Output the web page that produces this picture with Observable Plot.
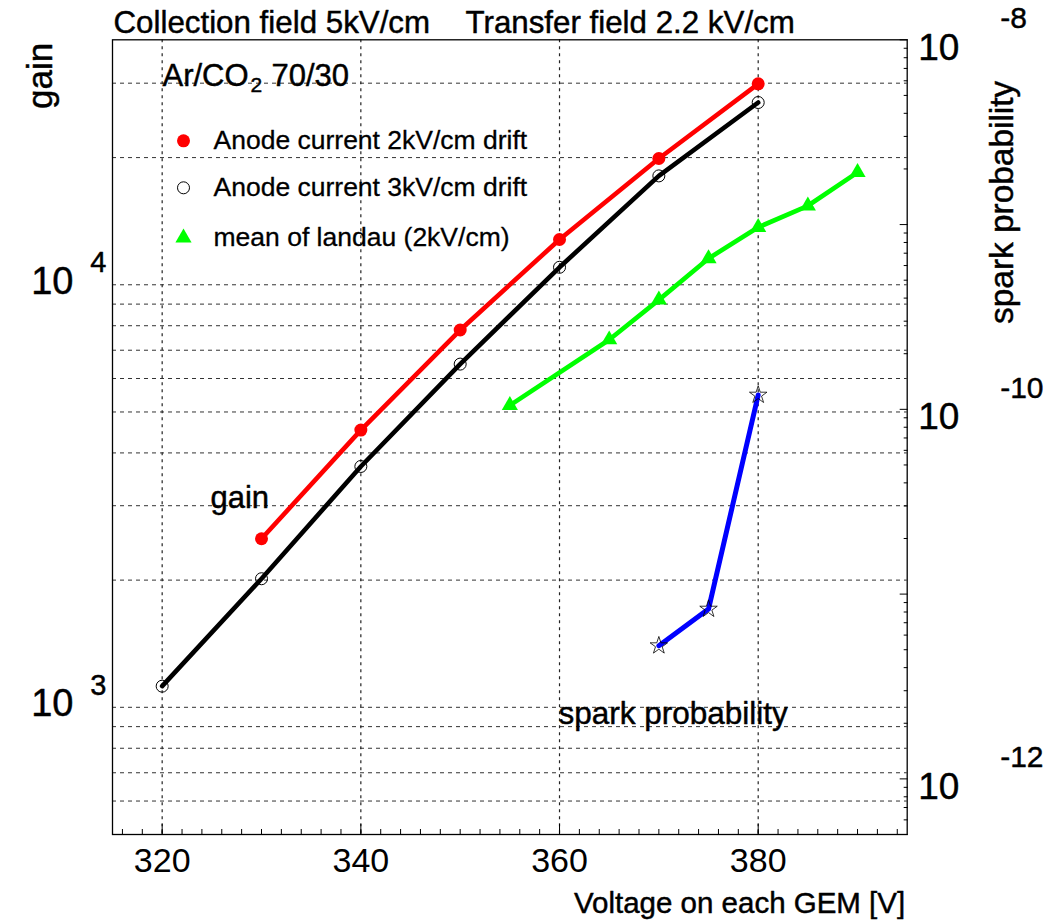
<!DOCTYPE html>
<html><head><meta charset="utf-8">
<script src="https://cdn.jsdelivr.net/npm/d3@7"></script>
<script src="https://cdn.jsdelivr.net/npm/@observablehq/plot@0.6"></script>
<style>
html,body{margin:0;padding:0;background:#fff;}
#chart svg{display:block;}
</style></head><body><div id="chart"></div>
<script>
// ---- data ----
const voltage2kV = [330, 340, 350, 360, 370, 380];
const gain2kV = [2506, 4530, 7815, 12800, 19900, 29900];
const voltage3kV = [320, 330, 340, 350, 360, 370, 380];
const gain3kV = [1122, 2015, 3715, 6490, 11000, 18100, 27000];
const voltageLandau = [355, 365, 370, 375, 380, 385, 390];
const gainLandau = [5185, 7413, 9210, 11540, 13680, 15380, 18460];
const voltageSpark = [370, 375, 380];
const sparkProb = [5.26e-12, 8.3e-12, 1.195e-10];

// ---- axes / ticks ----
const xDomain = [315, 395];
const xTicks = [320, 340, 360, 380];
const xMinorStep = 2;
const gainDomain = [500, 38000];
const gainGrid = [600, 700, 800, 900, 1000, 2000, 3000, 4000, 5000, 6000, 7000, 8000, 9000, 10000, 20000, 30000];
const gainLabelValues = [1000, 10000];
const gainLabelExps = ["3", "4"];
const sparkDomain = [5e-13, 1e-8];
const sparkMajor = [1e-12, 1e-11, 1e-10, 1e-9, 1e-8];
const sparkLabelValues = [1e-12, 1e-10, 1e-8];
const sparkLabelExps = ["-12", "-10", "-8"];
const legendNames = ["Anode current 2kV/cm drift", "Anode current 3kV/cm drift", "mean of landau (2kV/cm)"];

// ---- build tables ----
const s2 = voltage2kV.map((v, i) => ({v, g: gain2kV[i]}));
const s3 = voltage3kV.map((v, i) => ({v, g: gain3kV[i]}));
const sL = voltageLandau.map((v, i) => ({v, g: gainLandau[i]}));
const lg = Math.log10;
const toGain = p => 10 ** (lg(gainDomain[0]) + (lg(p) - lg(sparkDomain[0])) / (lg(sparkDomain[1]) - lg(sparkDomain[0])) * (lg(gainDomain[1]) - lg(gainDomain[0])));
const sS = voltageSpark.map((v, i) => ({v, g: toGain(sparkProb[i])}));
const xMinor = d3.range(xDomain[0] + 1, xDomain[1], xMinorStep);
const sparkMinor = [];
for (let e = -13; e <= -9; e++) for (let m = 2; m <= 9; m++) {
  const p = m * 10 ** e;
  if (p >= sparkDomain[0] && p <= sparkDomain[1]) sparkMinor.push(toGain(p));
}
const gainLabels = gainLabelValues.map((v, i) => ({v, e: gainLabelExps[i]}));
const sparkLabels = sparkLabelValues.map((p, i) => ({g: toGain(p), e: sparkLabelExps[i]}));

const FONT = "'Liberation Sans', Arial, Helvetica, sans-serif";
const mL = 112, mR = 143.3, mT = 39.3, mB = 90;
const T = {stroke: "black", strokeWidth: 0.45, fill: "black"};

const legendDy = [101, 148, 198];

const chart = Plot.plot({
  width: 1050,
  height: 924,
  marginLeft: mL, marginRight: mR, marginTop: mT, marginBottom: mB,
  style: {fontFamily: FONT, fontSize: "26px", color: "black", background: "white", overflow: "visible"},
  x: {domain: xDomain, label: null},
  y: {type: "log", domain: gainDomain, label: null},
  marks: [
    Plot.gridY(gainGrid, {stroke: "#333", strokeOpacity: 1, strokeWidth: 1, strokeDasharray: "4,4"}),
    Plot.gridX(xTicks, {stroke: "#222", strokeOpacity: 1, strokeWidth: 1.2, strokeDasharray: "3,4"}),
    // x ticks (inside frame)
    Plot.axisX(xMinor, {tickSize: 5, dy: -5, text: null, strokeWidth: 1}),
    Plot.axisX(xTicks, {tickSize: 10, dy: -10, text: null, strokeWidth: 1}),
    Plot.axisX(xTicks, {tickSize: 0, tickPadding: 13, fontSize: 34, tickFormat: d => String(d), ...T}),
    // right spark axis ticks (inside frame)
    Plot.axisY(sparkMinor, {anchor: "right", tickSize: 4, dx: -4, text: null, strokeWidth: 1}),
    Plot.axisY(sparkMajor.map(toGain), {anchor: "right", tickSize: 8, dx: -8, text: null, strokeWidth: 1}),
    // left gain labels 10^n
    Plot.text(gainLabels, {y: "v", text: () => "10", frameAnchor: "left", dx: -39, dy: -3, textAnchor: "end", lineAnchor: "middle", fontSize: 38, ...T}),
    Plot.text(gainLabels, {y: "v", text: "e", frameAnchor: "left", dx: -6, dy: -22, textAnchor: "end", lineAnchor: "middle", fontSize: 29, ...T}),
    // right spark labels 10^n
    Plot.text(sparkLabels, {y: "g", text: () => "10", frameAnchor: "right", dx: 11, dy: 8, textAnchor: "start", lineAnchor: "middle", fontSize: 37, ...T}),
    Plot.text(sparkLabels, {y: "g", text: "e", frameAnchor: "right", dx: 93, dy: -21, textAnchor: "start", lineAnchor: "middle", fontSize: 30, ...T}),
    // series
    Plot.line(s3, {x: "v", y: "g", stroke: "black", strokeWidth: 4.6}),
    Plot.dot(s3, {x: "v", y: "g", r: 6, stroke: "black", strokeWidth: 1, fill: "none"}),
    Plot.line(s2, {x: "v", y: "g", stroke: "#ff0000", strokeWidth: 4.6}),
    Plot.dot(s2, {x: "v", y: "g", r: 6.5, fill: "#ff0000"}),
    Plot.line(sL, {x: "v", y: "g", stroke: "#00ff00", strokeWidth: 4.6}),
    Plot.dot(sL, {x: "v", y: "g", symbol: "triangle", r: 6, fill: "#00ff00"}),
    Plot.line(sS, {x: "v", y: "g", stroke: "#0000ff", strokeWidth: 5}),
    Plot.dot(sS, {x: "v", y: "g", symbol: "star", r: 5.5, stroke: "black", strokeWidth: 0.8, fill: "none"}),
    Plot.frame({stroke: "black", strokeWidth: 1.3}),
    // legend
    Plot.dot([0], {frameAnchor: "top-left", dx: 71, dy: legendDy[0], r: 6.5, fill: "#ff0000"}),
    Plot.dot([0], {frameAnchor: "top-left", dx: 71, dy: legendDy[1], r: 6, stroke: "black", strokeWidth: 1, fill: "none"}),
    Plot.dot([0], {frameAnchor: "top-left", dx: 71, dy: legendDy[2], symbol: "triangle", r: 6, fill: "#00ff00"}),
    ...legendNames.map((t, i) => Plot.text([t], {text: d => d, frameAnchor: "top-left", dx: 101, dy: legendDy[i], textAnchor: "start", lineAnchor: "middle", fontSize: 26.5, ...T, strokeWidth: 0.3})),
    // gas mixture
    Plot.text(["Ar/CO"], {text: d => d, frameAnchor: "top-left", dx: 50, dy: 36, textAnchor: "start", lineAnchor: "middle", fontSize: 31, ...T}),
    Plot.text(["2"], {text: d => d, frameAnchor: "top-left", dx: 138, dy: 45, textAnchor: "start", lineAnchor: "middle", fontSize: 21, ...T}),
    Plot.text(["70/30"], {text: d => d, frameAnchor: "top-left", dx: 159, dy: 36, textAnchor: "start", lineAnchor: "middle", fontSize: 31, ...T}),
    // titles above the frame
    Plot.text(["Collection field 5kV/cm"], {text: d => d, frameAnchor: "top-left", dx: 1, dy: -17, textAnchor: "start", lineAnchor: "middle", fontSize: 31.3, ...T}),
    Plot.text(["Transfer field 2.2 kV/cm"], {text: d => d, frameAnchor: "top-left", dx: 353, dy: -17, textAnchor: "start", lineAnchor: "middle", fontSize: 31.3, ...T}),
    // axis titles
    Plot.text(["gain"], {text: d => d, frameAnchor: "top-left", dx: -72, dy: 3, rotate: -90, textAnchor: "end", lineAnchor: "middle", fontSize: 35, ...T}),
    Plot.text(["spark probability"], {text: d => d, frameAnchor: "top-right", dx: 95, dy: 41, rotate: -90, textAnchor: "end", lineAnchor: "middle", fontSize: 33.4, ...T}),
    Plot.text(["Voltage on each GEM [V]"], {text: d => d, frameAnchor: "bottom-right", dx: -2, dy: 69, textAnchor: "end", lineAnchor: "middle", fontSize: 29.5, ...T}),
    // in-plot annotations
    Plot.text(["gain"], {text: d => d, frameAnchor: "top-left", dx: 98, dy: 458, textAnchor: "start", lineAnchor: "middle", fontSize: 31, ...T}),
    Plot.text(["spark probability"], {text: d => d, frameAnchor: "top-left", dx: 446, dy: 674, textAnchor: "start", lineAnchor: "middle", fontSize: 31.5, ...T})
  ]
});
document.getElementById("chart").appendChild(chart);
</script>
</body></html>
